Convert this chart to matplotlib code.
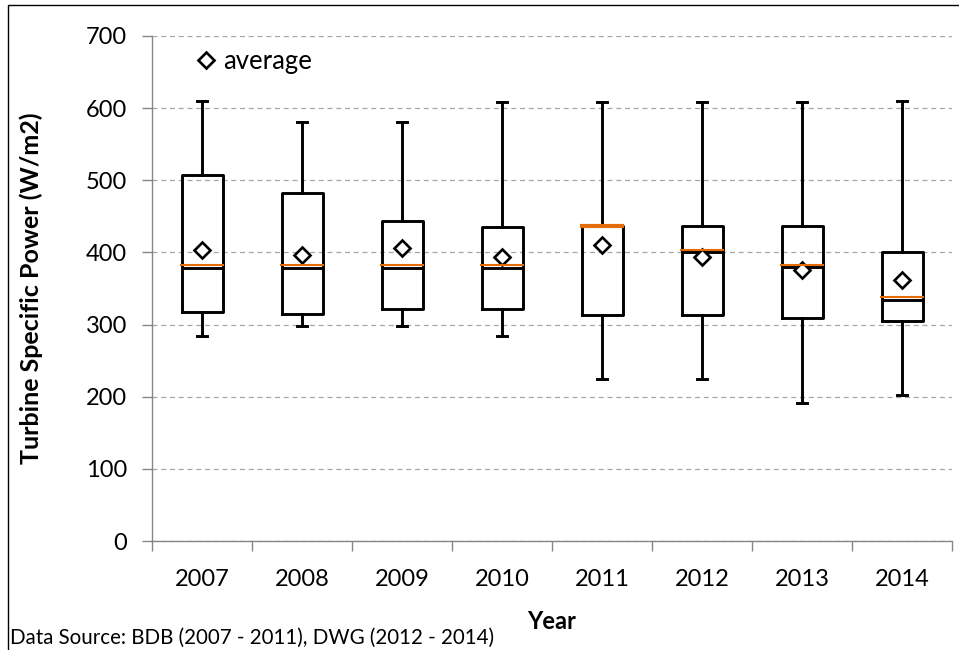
"""
Turbine specific power box plots by year.
"""
import matplotlib
matplotlib.use('Agg')
import matplotlib.pyplot as plt
from matplotlib.patches import Rectangle
from matplotlib.ticker import FixedLocator

plt.rcParams['font.family'] = ['Lato', 'DejaVu Sans']

# data
years = ['2007', '2008', '2009', '2010', '2011', '2012', '2013', '2014']
whisker_low = [284, 298, 298, 284, 225, 225, 191, 203]
q1 = [318, 314, 322, 322, 313, 313, 309, 305]
median = [379, 379, 379, 379, 437, 400, 380, 334]
q3 = [507, 482, 443, 435, 437, 436, 436, 400]
whisker_high = [610, 581, 581, 608, 608, 608, 608, 610]
average = [404, 396, 406, 393, 410, 394, 376, 362]
# second (orange) median marker drawn slightly off the black one
median_orange = [382, 382, 382, 382, 437, 403, 382, 338]
orange_width = [1.5, 1.5, 1.5, 1.5, 3.0, 1.5, 1.5, 1.5]

ORANGE = '#E36C09'
GRID = '#A6A6A6'
AXIS = '#868686'

stats = []
for i, y in enumerate(years):
    stats.append({'label': y, 'whislo': whisker_low[i], 'q1': q1[i], 'med': median[i],
                  'q3': q3[i], 'whishi': whisker_high[i], 'mean': average[i], 'fliers': []})

fig = plt.figure(figsize=(9.59, 6.5), dpi=100)
ax = fig.add_axes([152 / 959, 1 - 541 / 650, 800 / 959, 505 / 650])

positions = list(range(len(years)))
line_kw = dict(color='black', linewidth=2.1)
res = ax.bxp(stats, positions=positions, widths=0.41, showmeans=True, patch_artist=False,
             boxprops=line_kw, whiskerprops=line_kw, capprops=line_kw,
             medianprops=dict(color='black', linewidth=2.1),
             meanprops=dict(marker='D', markerfacecolor='white', markeredgecolor='black',
                            markeredgewidth=1.9, markersize=8.5, linestyle='none'),
             capwidths=0.1, zorder=3)

for i, p in enumerate(positions):
    ax.hlines(median_orange[i], p - 0.22, p + 0.22, color=ORANGE,
              linewidth=orange_width[i], zorder=3.5)

ax.set_xlim(-0.5, len(years) - 0.5)
ax.set_ylim(0, 700)
ax.set_yticks(range(0, 701, 100))
ax.yaxis.grid(True, linestyle=(0, (4, 3)), color=GRID, linewidth=0.9)
ax.set_axisbelow(True)

for side in ['top', 'right']:
    ax.spines[side].set_visible(False)
for side in ['left', 'bottom']:
    ax.spines[side].set_color(AXIS)
    ax.spines[side].set_linewidth(1.0)

ax.set_xticks(positions)
ax.set_xticklabels(years)
ax.xaxis.set_minor_locator(FixedLocator([p - 0.5 for p in positions] + [len(years) - 0.5]))
ax.tick_params(axis='x', which='major', length=0, pad=20, labelsize=17)
ax.tick_params(axis='x', which='minor', length=7, color=AXIS, width=1.0)
ax.tick_params(axis='y', length=7, color=AXIS, width=1.0, pad=11, labelsize=17)

ax.set_ylabel('Turbine Specific Power (W/m2)', fontsize=18, fontweight='bold')
ax.yaxis.set_label_coords(-0.136, 0.5)
ax.set_xlabel('Year', fontsize=17, fontweight='bold')
ax.xaxis.set_label_coords(0.5, -0.137)

ax.legend([res['means'][0]], ['average'], loc='center left', bbox_to_anchor=(0.045, 0.95),
          frameon=False, handlelength=0.6, handletextpad=0.35, fontsize=18.5, borderaxespad=0)

fig.text(10 / 959, 1 - 638 / 650, 'Data Source: BDB (2007 - 2011), DWG (2012 - 2014)',
         fontsize=14.8, va='center', ha='left')

# outer chart border (only left and top edges are inside the picture)
fig.patches.append(Rectangle((8 / 959, -0.1), 1.1, 1.1 - 5 / 650, transform=fig.transFigure,
                             fill=False, edgecolor='black', linewidth=1.0))

fig.savefig('out.png', dpi=100)
plt.close(fig)
